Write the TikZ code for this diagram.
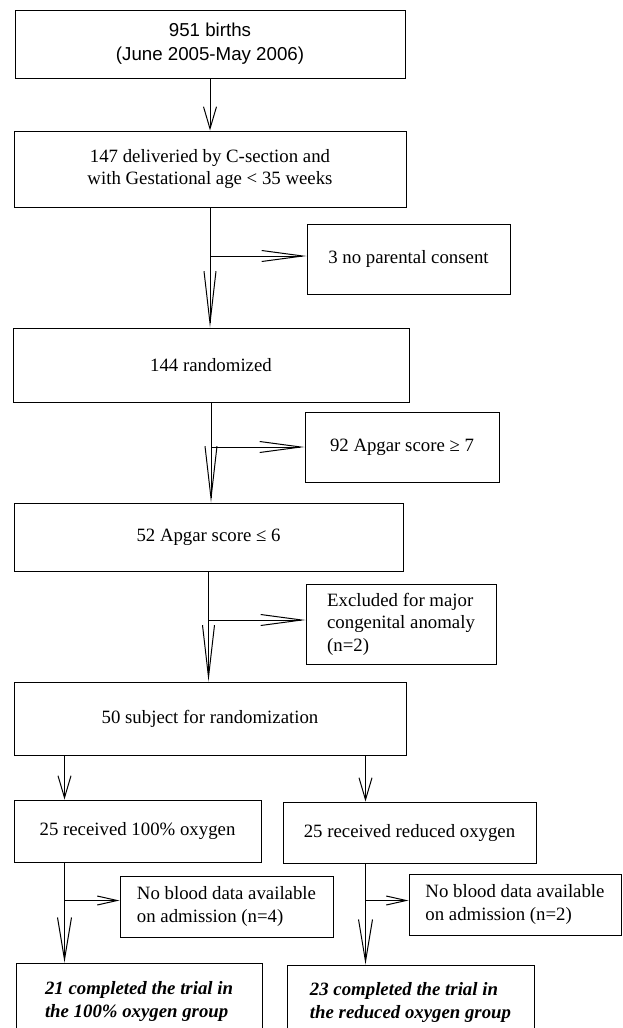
\documentclass[tikz,border=0pt]{standalone}
\usepackage{fontspec}
\setmainfont{Liberation Serif}
\newfontfamily\arialfont{Liberation Sans}
\usetikzlibrary{arrows.meta}

\begin{document}
\begin{tikzpicture}[x=1pt, y=-1pt, line width=1pt,
		box/.style={draw, line width=1pt, inner sep=0pt, align=center, font=\fontsize{18.8}{22.5}\selectfont},
		boldbox/.style={box, align=left, font=\fontsize{18.8}{22.5}\selectfont\bfseries\itshape},
		shorttip/.style={-{Straight Barb[length=22pt, width=13pt, line width=1pt]}},
		longtip/.style={-{Straight Barb[length=52pt, width=12pt, line width=1pt]}},
		sidetip/.style={-{Straight Barb[length=41pt, width=11pt, line width=1pt]}},
		lowtip/.style={-{Straight Barb[length=42pt, width=14pt, line width=1pt]}},
		smalltip/.style={-{Straight Barb[length=20pt, width=9pt, line width=1pt]}}]
		\useasboundingbox (0,0) rectangle (622,1028);
		\clip (0,0) rectangle (622,1028);
		% Hauptkette
		\node[box, minimum width=390pt, minimum height=68pt, font=\arialfont\fontsize{18.7}{24}\selectfont] (births) at (210,44) {951 births\\(June 2005-May 2006)};
		\node[box, minimum width=392pt, minimum height=76pt] (csec) at (210,169) {147 deliveried by C-section and\\with Gestational age < 35 weeks};
		\node[box, minimum width=396pt, minimum height=74pt] (rand) at (211,365) {144 randomized};
		\node[box, minimum width=389pt, minimum height=68pt] (apgarlo) at (208.5,537) {52 Apgar score ≤ 6};
		\node[box, minimum width=392pt, minimum height=73pt] (subj) at (210,718.5) {50 subject for randomization};
		% Ausschluss rechts
		\node[box, minimum width=203pt, minimum height=70pt] (consent) at (408.5,259) {3 no parental consent};
		\node[box, minimum width=194pt, minimum height=70pt] (apgarhi) at (402,447) {92 Apgar score ≥ 7};
		\node[box, align=left, minimum width=190pt, minimum height=80pt] (anomaly) at (401,624) {Excluded for major\\congenital anomaly\\(n=2)};
		% Zwei Gruppen
		\node[box, minimum width=247pt, minimum height=62pt] (full) at (137.5,831) {25 received 100\% oxygen};
		\node[box, minimum width=253pt, minimum height=61pt] (reduced) at (409.5,832.5) {25 received reduced oxygen};
		\node[box, align=left, minimum width=213pt, minimum height=61pt] (nodataA) at (226.5,906.5) {No blood data available\\on admission (n=4)};
		\node[box, align=left, minimum width=212pt, minimum height=61pt] (nodataB) at (515,904.5) {No blood data available\\on admission (n=2)};
		\node[boldbox, minimum width=246pt, minimum height=77pt] (doneA) at (139,1001.5) {21 completed the trial in\\the 100\% oxygen group};
		\node[boldbox, minimum width=247pt, minimum height=75pt] (doneB) at (410.5,1002.5) {23 completed the trial in\\the reduced oxygen group};
		% Pfeile
		\coordinate (colA) at (64.5,0);
		\coordinate (colB) at (365.5,0);
		\draw[shorttip] (births) -- (csec);
		\draw[longtip] (csec.south) -- (csec.south |- rand.north);
		\draw[sidetip] (csec.south |- consent.west) ++(0,-3) -- ([yshift=3pt]consent.west);
		\draw[longtip] (rand.south) -- (rand.south |- apgarlo.north);
		\draw[sidetip] (rand.south |- apgarhi.west) -- (apgarhi.west);
		\draw[longtip] (apgarlo.south) -- (apgarlo.south |- subj.north);
		\draw[sidetip] (apgarlo.south |- anomaly.west) ++(0,-4) -- ([yshift=4pt]anomaly.west);
		\draw[shorttip] (subj.south -| colA) -- (full.north -| colA);
		\draw[shorttip] (subj.south -| colB) -- (reduced.north -| colB);
		\draw[lowtip] (full.south -| colA) -- (doneA.north -| colA);
		\draw[smalltip] (colA |- nodataA.west) ++(0,-6) -- ([yshift=6pt]nodataA.west);
		\draw[lowtip] (reduced.south -| colB) -- (doneB.north -| colB);
		\draw[smalltip] (colB |- nodataB.west) ++(0,-4) -- ([yshift=4pt]nodataB.west);
	\end{tikzpicture}
\end{document}
